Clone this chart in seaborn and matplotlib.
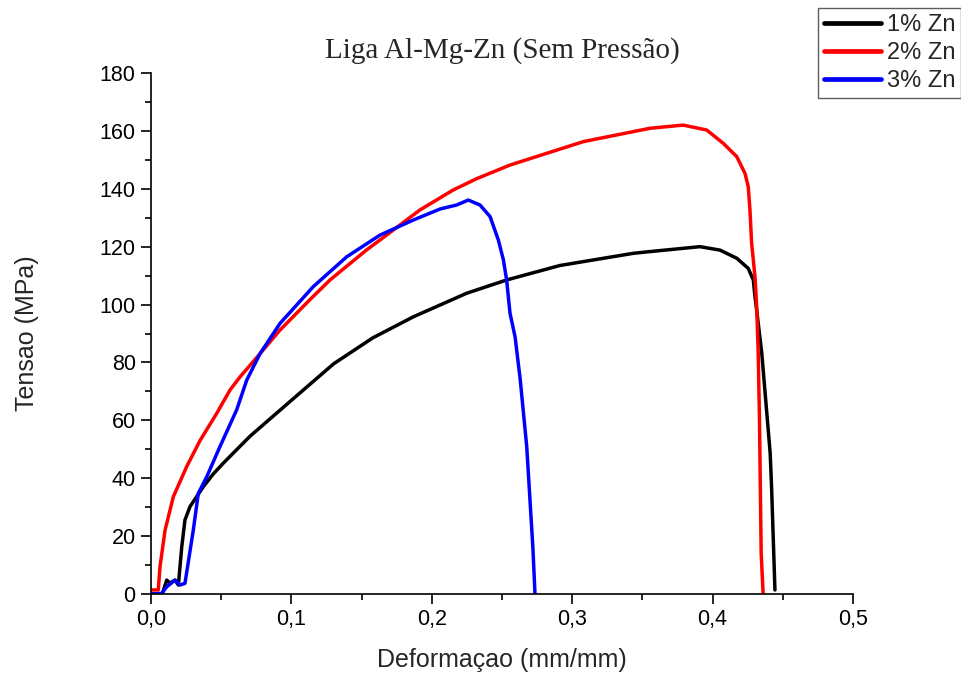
import matplotlib
matplotlib.use("Agg")
import matplotlib.pyplot as plt
import seaborn as sns
import pandas as pd
from matplotlib.ticker import MultipleLocator, FuncFormatter
from matplotlib.lines import Line2D

# --- data ---
labels = ["1% Zn", "2% Zn", "3% Zn"]

x_1zn = [0, 0.008, 0.0112, 0.0135, 0.0171, 0.0195, 0.0219, 0.0242, 0.0278, 0.0373,
         0.0444, 0.0515, 0.0705, 0.0895, 0.1014, 0.13, 0.158, 0.187, 0.2248,
         0.2533, 0.2913, 0.3435, 0.3554, 0.391, 0.4053, 0.4172, 0.4254, 0.429,
         0.4302, 0.4314, 0.435, 0.441, 0.442, 0.4444]
y_1zn = [0, 0, 4.8, 3.8, 4.8, 3.1, 16.3, 25.6, 30.2, 37.1,
         41.5, 45.2, 54.5, 62.5, 67.5, 79.5, 88.5, 95.8, 103.9,
         108.5, 113.5, 117.7, 118.3, 120, 118.8, 116, 112.5, 108.5,
         102.7, 98, 83.3, 48.7, 37, 1.4]

x_2zn = [0, 0.0052, 0.0064, 0.01, 0.0159, 0.0254, 0.0349, 0.0468, 0.0563, 0.0634,
         0.0776, 0.0919, 0.113, 0.1275, 0.1536, 0.1631, 0.1916, 0.2153, 0.232,
         0.2557, 0.308, 0.3554, 0.379, 0.3958, 0.4076, 0.4172, 0.4231, 0.4254,
         0.4266, 0.4278, 0.4302, 0.4314, 0.4325, 0.4334, 0.4346, 0.436]
y_2zn = [1.4, 1.4, 9.4, 22, 33.6, 44, 53, 62.4, 70.5, 75,
         83, 91.2, 101.6, 108.5, 118.9, 122.3, 132.7, 139.6, 143.5,
         148.2, 156.3, 160.9, 162, 160.3, 155.7, 151.1, 145.3, 140.7,
         132.7, 121.2, 109.6, 99.3, 83, 60, 14, 0]

x_3zn = [0, 0.0076, 0.0112, 0.0171, 0.0207, 0.0242, 0.0301, 0.0337, 0.0397, 0.0491,
         0.061, 0.0682, 0.0776, 0.0919, 0.1156, 0.1394, 0.1631, 0.1868, 0.2058,
         0.2177, 0.226, 0.2343, 0.2415, 0.2474, 0.251, 0.2533, 0.2557, 0.2593,
         0.263, 0.2676, 0.272, 0.2735]
y_3zn = [0, 0.2, 2.5, 4.8, 3.1, 3.7, 22, 34.8, 40.5, 50.9,
         63.6, 73.9, 83, 93.5, 106.2, 116.5, 124, 129.2, 133,
         134.4, 136.1, 134.4, 130.4, 122.3, 115.4, 108.5, 97, 88.9,
         74, 51, 16, 0]

colors = ["#000000", "#ff0000", "#0000ff"]

frames = []
for lab, xs, ys in zip(labels, [x_1zn, x_2zn, x_3zn], [y_1zn, y_2zn, y_3zn]):
    frames.append(pd.DataFrame({"x": xs, "y": ys, "serie": lab}))
df = pd.concat(frames, ignore_index=True)

sns.set_style("white")
plt.rcParams["font.family"] = ["Liberation Sans", "DejaVu Sans"]

fig = plt.figure(figsize=(9.61, 6.75), dpi=100)
ax = fig.add_axes([151 / 961, 81 / 675, 702 / 961, 521 / 675])

sns.lineplot(data=df, x="x", y="y", hue="serie", palette=colors, sort=False,
             estimator=None, units="serie", linewidth=2.5, ax=ax, legend=False)
for ln in ax.get_lines():
    ln.set_solid_joinstyle("round")
    ln.set_solid_capstyle("round")

ax.set_xlim(0, 0.5)
ax.set_ylim(0, 180)
ax.xaxis.set_major_locator(MultipleLocator(0.1))
ax.xaxis.set_minor_locator(MultipleLocator(0.05))
ax.yaxis.set_major_locator(MultipleLocator(20))
ax.yaxis.set_minor_locator(MultipleLocator(10))
ax.xaxis.set_major_formatter(FuncFormatter(lambda v, p: f"{v:.1f}".replace(".", ",")))
ax.yaxis.set_major_formatter(FuncFormatter(lambda v, p: f"{v:.0f}"))

for s in ["top", "right"]:
    ax.spines[s].set_visible(False)
for s in ["left", "bottom"]:
    ax.spines[s].set_color("black")
    ax.spines[s].set_linewidth(1.2)

ax.tick_params(which="major", direction="out", length=7, width=1.2, colors="black",
               labelsize=15.5, left=True, bottom=True, pad=4)
ax.tick_params(which="minor", direction="out", length=4, width=1.2, colors="black",
               left=True, bottom=True)

ax.set_xlabel("Deformaçao (mm/mm)", fontsize=18)
ax.set_ylabel("Tensao (MPa)", fontsize=18)
ax.xaxis.label.set_va("center")
ax.yaxis.label.set_va("center")
ax.xaxis.set_label_coords(0.5, (594 - 660) / 521)
ax.yaxis.set_label_coords((27 - 151) / 702, 0.5)
ax.set_title("Liga Al-Mg-Zn (Sem Pressão)", fontsize=21, family="Liberation Serif", pad=11)

# legend outside at top-right
handles = [Line2D([0], [0], color=c, lw=3.4) for c in colors]
leg = fig.legend(handles, labels, loc="upper right", bbox_to_anchor=(1.0, 0.988),
                 frameon=True, fancybox=False, fontsize=17, handlelength=2.4,
                 handletextpad=0.25, borderpad=0.25, labelspacing=0.25, borderaxespad=0)
leg.get_frame().set_edgecolor("#333333")
leg.get_frame().set_linewidth(1.0)

fig.savefig("out.png", dpi=100)
